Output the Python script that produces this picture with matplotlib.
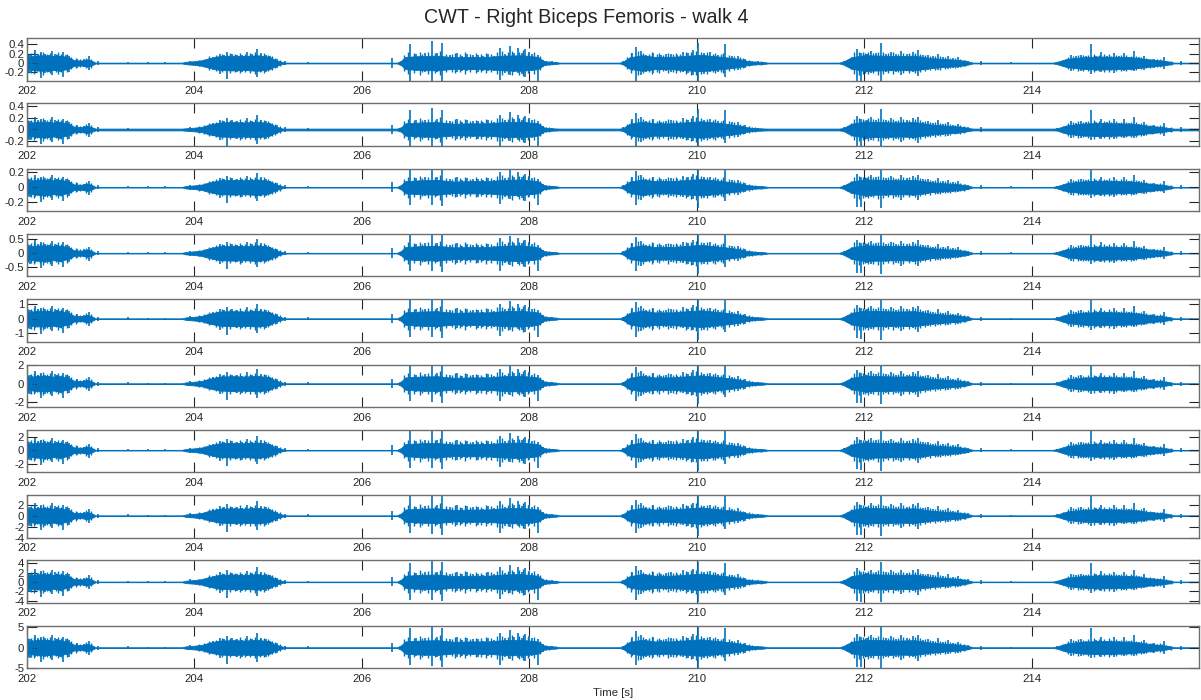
import numpy as np
import matplotlib
matplotlib.use("Agg")
from matplotlib import pyplot as plt

plt.rcParams['font.family'] = ['Liberation Sans', 'DejaVu Sans']

title = "CWT - Right Biceps Femoris - walk 4"
xlabel = "Time [s]"
blue = "#0072BD"

# envelope of the EMG bursts (seconds, amplitude in units of the last panel)
env_t = [202.00, 202.10, 202.20, 202.30, 202.40, 202.50, 202.56, 202.65, 202.72, 202.78, 202.82,
         203.85, 203.90, 204.00, 204.10, 204.16, 204.30, 204.45, 204.60, 204.75, 204.90, 204.95,
         205.00, 205.05, 205.10,
         206.42, 206.47, 206.52, 206.70, 206.90, 207.10, 207.30, 207.50, 207.70, 207.90, 208.10,
         208.17, 208.22, 208.32, 208.36,
         209.08, 209.12, 209.20, 209.35, 209.50, 209.70, 209.90, 210.05, 210.20, 210.35, 210.50,
         210.60, 210.68, 210.80, 210.85,
         211.70, 211.75, 211.85, 212.00, 212.20, 212.40, 212.60, 212.80, 213.00, 213.15, 213.25,
         213.30,
         214.25, 214.30, 214.42, 214.60, 214.80, 215.00, 215.20, 215.40, 215.55, 215.65, 215.70,
         216.00]
env_a = [1.4, 1.8, 1.9, 1.7, 1.8, 1.4, 0.7, 0.6, 0.9, 0.5, 0.08,
         0.08, 0.3, 0.45, 0.7, 1.1, 1.7, 1.8, 1.7, 1.9, 1.5, 0.9,
         0.55, 0.25, 0.08,
         0.08, 0.55, 1.5, 1.7, 1.8, 1.4, 1.5, 1.5, 1.8, 1.9, 1.5,
         0.55, 0.35, 0.25, 0.08,
         0.08, 0.35, 1.4, 1.9, 1.5, 1.5, 1.8, 2.0, 1.7, 1.4, 1.0,
         0.55, 0.35, 0.25, 0.08,
         0.08, 0.35, 1.4, 1.9, 1.8, 1.7, 1.8, 1.2, 0.9, 0.7, 0.35,
         0.08,
         0.08, 0.25, 1.0, 1.4, 1.6, 1.5, 1.4, 0.9, 0.6, 0.35, 0.08,
         0.08]

# large single spikes: time, positive peak, negative peak
spike_t = [202.03, 202.06, 202.10, 202.13, 202.17, 202.22, 202.26, 202.30, 202.33, 202.36, 202.39,
           202.43, 202.46, 202.50, 202.60, 202.68, 202.74, 202.85, 203.21, 203.45, 203.65,
           203.95, 204.22, 204.31, 204.35, 204.39, 204.45, 204.51, 204.57, 204.63, 204.69, 204.75,
           204.80, 204.85, 204.90, 204.99, 205.08, 205.36,
           206.36, 206.58, 206.65, 206.75, 206.84, 206.90, 206.96, 207.05, 207.14, 207.20, 207.26,
           207.33, 207.39, 207.45, 207.51, 207.58, 207.65, 207.71, 207.77, 207.82, 207.86, 207.91,
           207.95, 208.00, 208.03, 208.10, 208.16, 208.27,
           209.12, 209.23, 209.27, 209.33, 209.40, 209.48, 209.57, 209.63, 209.69, 209.77, 209.84,
           209.90, 209.96, 210.02, 210.09, 210.16, 210.25, 210.34, 210.42, 210.49, 210.58, 210.73,
           211.76, 211.92, 211.96, 212.03, 212.08, 212.14, 212.20, 212.26, 212.32, 212.38, 212.44,
           212.51, 212.58, 212.64, 212.70, 212.76, 212.82, 212.88, 212.94, 213.00, 213.06, 213.12,
           213.24, 213.39, 213.75,
           214.30, 214.47, 214.53, 214.59, 214.65, 214.71, 214.77, 214.83, 214.90, 214.98, 215.04,
           215.10, 215.16, 215.22, 215.28, 215.34, 215.46, 215.58, 215.78]
spike_up = [2.0, 1.8, 3.1, 2.2, 2.6, 2.2, 1.9, 3.0, 2.3, 2.0, 1.7,
            2.6, 2.0, 1.8, 1.0, 0.9, 1.6, 0.5, 0.3, 0.2, 0.2,
            0.6, 1.5, 2.3, 2.0, 2.8, 2.2, 2.0, 1.9, 2.7, 2.1, 3.5,
            2.4, 2.0, 1.6, 1.0, 0.5, 0.3,
            1.2, 4.7, 2.2, 2.4, 5.3, 2.5, 4.8, 2.0, 2.5, 1.8, 2.3,
            2.0, 2.0, 1.7, 2.3, 1.8, 3.6, 2.2, 4.2, 2.5, 3.6, 2.4,
            3.3, 2.7, 2.2, 2.0, 0.8, 0.4,
            0.5, 2.5, 3.9, 3.0, 2.0, 2.5, 1.9, 2.1, 2.3, 1.9, 2.8,
            2.4, 3.2, 4.9, 2.4, 2.6, 2.0, 4.7, 1.7, 1.8, 1.0, 0.4,
            0.5, 3.3, 2.5, 2.2, 3.0, 2.4, 4.9, 2.3, 2.8, 2.1, 3.0,
            2.2, 2.8, 3.1, 1.9, 2.0, 1.6, 2.3, 1.4, 1.8, 1.2, 1.4,
            0.6, 0.5, 0.2,
            0.3, 2.0, 1.6, 2.0, 1.7, 4.7, 1.8, 2.6, 1.7, 2.5, 1.6,
            2.5, 1.5, 3.0, 1.4, 1.8, 1.0, 1.5, 0.5]
spike_dn = [-2.5, -1.9, -2.3, -1.8, -3.6, -2.4, -2.1, -3.0, -1.7, -2.0, -2.2,
            -3.4, -1.6, -2.2, -1.1, -0.9, -1.8, -0.5, -0.3, -0.2, -0.2,
            -0.6, -1.6, -2.6, -1.8, -3.9, -2.0, -2.2, -2.3, -2.0, -1.9, -3.4,
            -2.1, -2.2, -1.5, -1.2, -0.5, -0.3,
            -1.1, -4.3, -2.0, -2.1, -4.4, -2.2, -4.6, -1.8, -2.3, -2.0, -2.0,
            -1.7, -2.3, -1.9, -2.0, -1.9, -4.2, -2.4, -2.8, -2.1, -2.5, -2.6,
            -3.3, -2.3, -2.0, -4.3, -1.0, -0.4,
            -0.5, -2.0, -4.3, -3.0, -2.2, -2.4, -1.8, -1.9, -2.2, -2.0, -2.3,
            -2.5, -2.8, -5.0, -2.6, -2.2, -2.1, -3.3, -1.5, -1.8, -1.2, -0.4,
            -0.4, -4.7, -4.8, -2.3, -2.5, -2.0, -5.0, -2.2, -2.0, -2.3, -3.0,
            -1.9, -2.2, -3.2, -1.8, -1.7, -1.5, -1.6, -1.3, -1.5, -1.1, -1.2,
            -0.6, -0.5, -0.2,
            -0.3, -2.0, -1.5, -2.0, -1.8, -2.6, -1.9, -2.2, -1.6, -2.4, -1.5,
            -2.0, -1.4, -2.0, -1.3, -1.6, -1.2, -1.5, -0.5]

# smaller oscillations inside the bursts: time, half amplitude
mid_t = [202.015, 202.045, 202.08, 202.115, 202.15, 202.195, 202.24, 202.28, 202.345, 202.375,
         202.41, 202.48, 202.53, 202.58, 202.63, 202.71, 202.76,
         204.05, 204.12, 204.18, 204.26, 204.33, 204.42, 204.48, 204.54, 204.60, 204.66, 204.72,
         204.78, 204.83, 204.88, 204.93, 204.96, 205.02,
         206.50, 206.55, 206.62, 206.69, 206.72, 206.79, 206.87, 206.93, 207.00, 207.08, 207.11,
         207.17, 207.23, 207.29, 207.36, 207.42, 207.48, 207.54, 207.61, 207.68, 207.74, 207.79,
         207.88, 207.93, 207.98, 208.06, 208.13, 208.20, 208.24,
         209.17, 209.21, 209.30, 209.36, 209.43, 209.46, 209.52, 209.55, 209.60, 209.66, 209.72,
         209.75, 209.80, 209.87, 209.93, 209.99, 210.05, 210.12, 210.19, 210.22, 210.29, 210.31,
         210.38, 210.45, 210.52, 210.55, 210.62, 210.66, 210.70, 210.77,
         211.80, 211.84, 211.88, 211.94, 211.99, 212.01, 212.05, 212.11, 212.17, 212.23, 212.29,
         212.35, 212.41, 212.47, 212.54, 212.61, 212.67, 212.73, 212.79, 212.85, 212.91, 212.97,
         213.03, 213.09, 213.15, 213.19, 213.21,
         214.38, 214.44, 214.50, 214.56, 214.62, 214.68, 214.74, 214.80, 214.86, 214.93, 214.95,
         215.01, 215.07, 215.13, 215.19, 215.25, 215.31, 215.37, 215.41, 215.44, 215.50, 215.53,
         215.56, 215.61, 215.66]
mid_a = [2.2, 2.4, 2.6, 2.0, 2.4, 2.8, 2.3, 2.5, 2.1, 2.6,
         2.2, 2.3, 1.5, 1.2, 0.9, 1.3, 1.1,
         0.8, 1.0, 1.6, 1.9, 2.2, 2.4, 2.1, 2.5, 2.2, 2.4, 2.6,
         2.2, 2.4, 2.0, 1.6, 1.3, 0.8,
         2.0, 2.6, 2.4, 2.8, 2.2, 2.6, 2.4, 3.0, 2.3, 2.1, 2.5,
         2.2, 2.6, 2.1, 2.4, 2.2, 2.5, 2.3, 2.7, 2.9, 2.6, 3.0,
         2.8, 3.1, 2.5, 2.6, 1.6, 0.6, 0.5,
         1.4, 2.4, 2.9, 2.5, 2.2, 2.6, 2.1, 2.4, 2.0, 2.5, 2.2,
         2.4, 2.1, 2.6, 2.8, 3.0, 2.7, 2.6, 2.3, 2.5, 2.1, 2.4,
         2.0, 1.7, 1.4, 1.2, 0.8, 0.6, 0.5, 0.4,
         0.8, 1.5, 2.6, 2.8, 2.6, 2.4, 2.7, 2.5, 2.8, 2.6, 2.4,
         2.6, 2.3, 2.5, 2.4, 2.5, 2.2, 2.0, 1.8, 1.7, 1.6, 1.5,
         1.3, 1.2, 1.0, 0.8, 0.7,
         0.8, 1.5, 1.8, 2.0, 1.9, 2.0, 2.2, 2.0, 2.1, 2.2, 1.8,
         2.0, 1.9, 1.9, 1.8, 1.7, 1.5, 1.3, 1.1, 1.0, 0.9, 1.0,
         0.8, 0.6, 0.5]

# per scale (panel): amplitude factor, noise floor, y limits and y ticks
panel_scale = [0.087, 0.071, 0.055, 0.146, 0.29, 0.45, 0.60, 0.75, 0.88, 1.0]
panel_floor = [0.10, 0.22, 0.08, 0.08, 0.08, 0.08, 0.08, 0.08, 0.08, 0.08]
panel_ylim = [(-0.37, 0.53), (-0.28, 0.45), (-0.32, 0.25), (-0.82, 0.68), (-1.6, 1.35),
              (-2.55, 2.08), (-3.25, 3.0), (-4.0, 3.75), (-4.5, 4.6), (-5.0, 5.3)]
panel_yticks = [[-0.2, 0, 0.2, 0.4], [-0.2, 0, 0.2, 0.4], [-0.2, 0, 0.2], [-0.5, 0, 0.5],
                [-1, 0, 1], [-2, 0, 2], [-2, 0, 2], [-4, -2, 0, 2], [-4, -2, 0, 2, 4], [-5, 0, 5]]
xticks = [202, 204, 206, 208, 210, 212, 214]

fig = plt.figure(figsize=(12.01, 7.0), dpi=100)
fig.text(586 / 1201, 1 - 8 / 700, title, ha='center', va='top', fontsize=14.2, color='#262626')

env_t = np.array(env_t)
env_a = np.array(env_a)
mid_t = np.array(mid_t)
mid_a = np.array(mid_a)
for i in range(10):
    top = 38 + 65.3 * i
    ax = fig.add_axes([27 / 1201, 1 - (top + 42.5) / 700, 1172 / 1201, 42.5 / 700])
    s = panel_scale[i]
    a = np.maximum(env_a, panel_floor[i]) * s
    ax.fill_between(env_t, -a, a, color=blue, lw=0.6)
    ax.vlines(mid_t, -mid_a * s, mid_a * s, color=blue, lw=1.0)
    ax.vlines(spike_t, np.array(spike_dn) * s, np.array(spike_up) * s, color=blue, lw=1.2)
    ax.set_xlim(202, 216)
    ax.set_ylim(*panel_ylim[i])
    ax.set_xticks(xticks)
    ax.set_yticks(panel_yticks[i])
    ax.set_yticklabels(['%g' % v for v in panel_yticks[i]])
    ax.tick_params(direction='in', top=True, right=True, length=7, width=0.8,
                   color='#262626', labelcolor='#262626', labelsize=8.2)
    ax.tick_params(axis='x', pad=4)
    ax.tick_params(axis='y', pad=2)
    for sp in ax.spines.values():
        sp.set_color('#6e6e6e')
        sp.set_linewidth(1.0)
    if i == 9:
        ax.set_xlabel(xlabel, fontsize=8.2, color='#262626', labelpad=3)

fig.savefig("out.png", dpi=100)
